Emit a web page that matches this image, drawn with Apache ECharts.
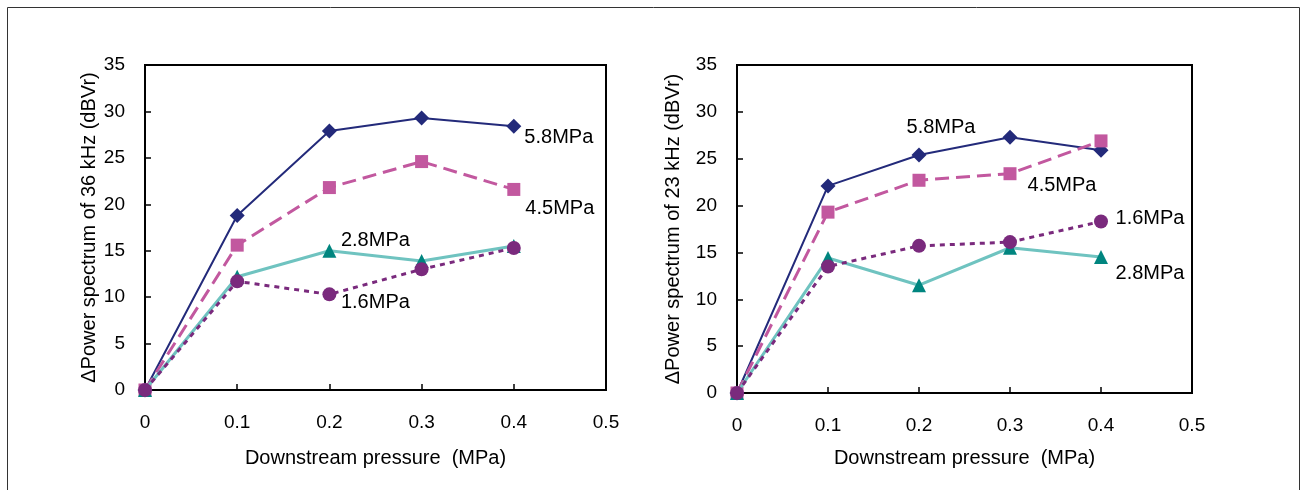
<!DOCTYPE html>
<html>
<head>
<meta charset="utf-8">
<script src="https://cdn.jsdelivr.net/npm/echarts@6/dist/echarts.min.js"></script>
<style>
  html, body { margin: 0; padding: 0; background: #fff; }
  #chart { width: 1305px; height: 490px; }
</style>
</head>
<body>
<div id="chart"></div>
<script>
// downstream pressure (MPa)
const pressure = [0, 0.1, 0.2, 0.3, 0.4]

// 36 kHz, left panel
const p36_58 = [0, 18.8, 27.9, 29.3, 28.4]
const p36_45 = [0, 15.6, 21.8, 24.6, 21.6]
const p36_28 = [0, 12.2, 15.0, 13.9, 15.5]
const p36_16 = [0, 11.7, 10.3, 13.0, 15.3]

// 23 kHz, right panel
const p23_58 = [0, 22.1, 25.4, 27.3, 25.9]
const p23_45 = [0, 19.3, 22.7, 23.4, 26.9]
const p23_28 = [0, 14.4, 11.5, 15.5, 14.5]
const p23_16 = [0, 13.5, 15.7, 16.1, 18.3]

const seriesNames = ['5.8MPa', '4.5MPa', '2.8MPa', '1.6MPa']
const yNames = ['\u0394Power spectrum of 36 kHz (dBVr)', '\u0394Power spectrum of 23 kHz (dBVr)']

const font = 'Liberation Sans, Arial, sans-serif'
const fs = 20
const tickFs = 19

// where each series name sits: [panel][series] = [point index, dx, dy]
const labelAt = [
  [[4, 45, 11], [4, 46, 19], [2, 46, -10], [2, 46, 8]],
  [[2, 22, -27], [3, 52, 12], [4, 49, 16], [4, 49, -3]]
]

const styles = [
  { symbol: 'diamond', size: 15, color: '#232a7a', line: { color: '#232a7a', width: 2, type: 'solid' } },
  { symbol: 'rect', size: 13, color: '#c2589f', line: { color: '#c2589f', width: 3, type: [14, 7] } },
  { symbol: 'triangle', size: 14, color: '#00857f', line: { color: '#6fc3c0', width: 3, type: 'solid' } },
  { symbol: 'circle', size: 14, color: '#7a2a7d', line: { color: '#7a2a7d', width: 3, type: [5, 5] } }
]

function build(panel, values) {
  return values.map((vals, si) => {
    const st = styles[si]
    const [idx, dx, dy] = labelAt[panel][si]
    const data = vals.map((v, i) => {
      const item = { value: [pressure[i], v] }
      if (i === idx) {
        item.label = {
          show: true,
          formatter: seriesNames[si],
          position: 'inside',
          offset: [dx, dy],
          color: '#000',
          fontSize: fs,
          fontFamily: font
        }
      }
      return item
    })
    return {
      name: seriesNames[si],
      type: 'line',
      xAxisIndex: panel,
      yAxisIndex: panel,
      symbol: st.symbol,
      symbolSize: st.size,
      itemStyle: { color: st.color },
      lineStyle: st.line,
      z: 2 + si,
      animation: false,
      data: data
    }
  })
}

const chart = echarts.init(document.getElementById('chart'))

const xAxisBase = {
  type: 'value',
  min: 0,
  max: 0.5,
  interval: 0.1,
  name: 'Downstream pressure  (MPa)',
  nameLocation: 'middle',
  nameTextStyle: { color: '#000', fontSize: fs, fontFamily: font },
  axisLine: { show: true, lineStyle: { color: '#000', width: 2 } },
  axisTick: { show: true, inside: true, length: 6, lineStyle: { color: '#000', width: 1.5 } },
  axisLabel: { color: '#000', fontSize: tickFs, fontFamily: font, margin: 23 },
  splitLine: { show: false }
}
const yAxisBase = {
  type: 'value',
  min: 0,
  max: 35,
  interval: 5,
  nameLocation: 'middle',
  nameRotate: 90,
  nameTextStyle: { color: '#000', fontSize: fs, fontFamily: font },
  axisLine: { show: true, lineStyle: { color: '#000', width: 2 } },
  axisTick: { show: true, inside: true, length: 6, lineStyle: { color: '#000', width: 1.5 } },
  axisLabel: { color: '#000', fontSize: tickFs, fontFamily: font, margin: 20 },
  splitLine: { show: false }
}

chart.setOption({
  animation: false,
  graphic: [{
    type: 'rect',
    shape: { x: 7.5, y: 7.5, width: 1292, height: 500 },
    style: { fill: 'none', stroke: '#333', lineWidth: 1 },
    silent: true
  }],
  grid: [
    { left: 145, top: 65, width: 461, height: 325, show: true, borderColor: '#000', borderWidth: 2 },
    { left: 737, top: 65, width: 455, height: 328, show: true, borderColor: '#000', borderWidth: 2 }
  ],
  xAxis: [
    Object.assign({}, xAxisBase, { gridIndex: 0, nameGap: 58 }),
    Object.assign({}, xAxisBase, { gridIndex: 1, nameGap: 55 })
  ],
  yAxis: [
    Object.assign({}, yAxisBase, { gridIndex: 0, name: yNames[0], nameGap: 45 }),
    Object.assign({}, yAxisBase, { gridIndex: 1, name: yNames[1], nameGap: 54 })
  ],
  series: build(0, [p36_58, p36_45, p36_28, p36_16])
    .concat(build(1, [p23_58, p23_45, p23_28, p23_16]))
})
</script>
</body>
</html>
